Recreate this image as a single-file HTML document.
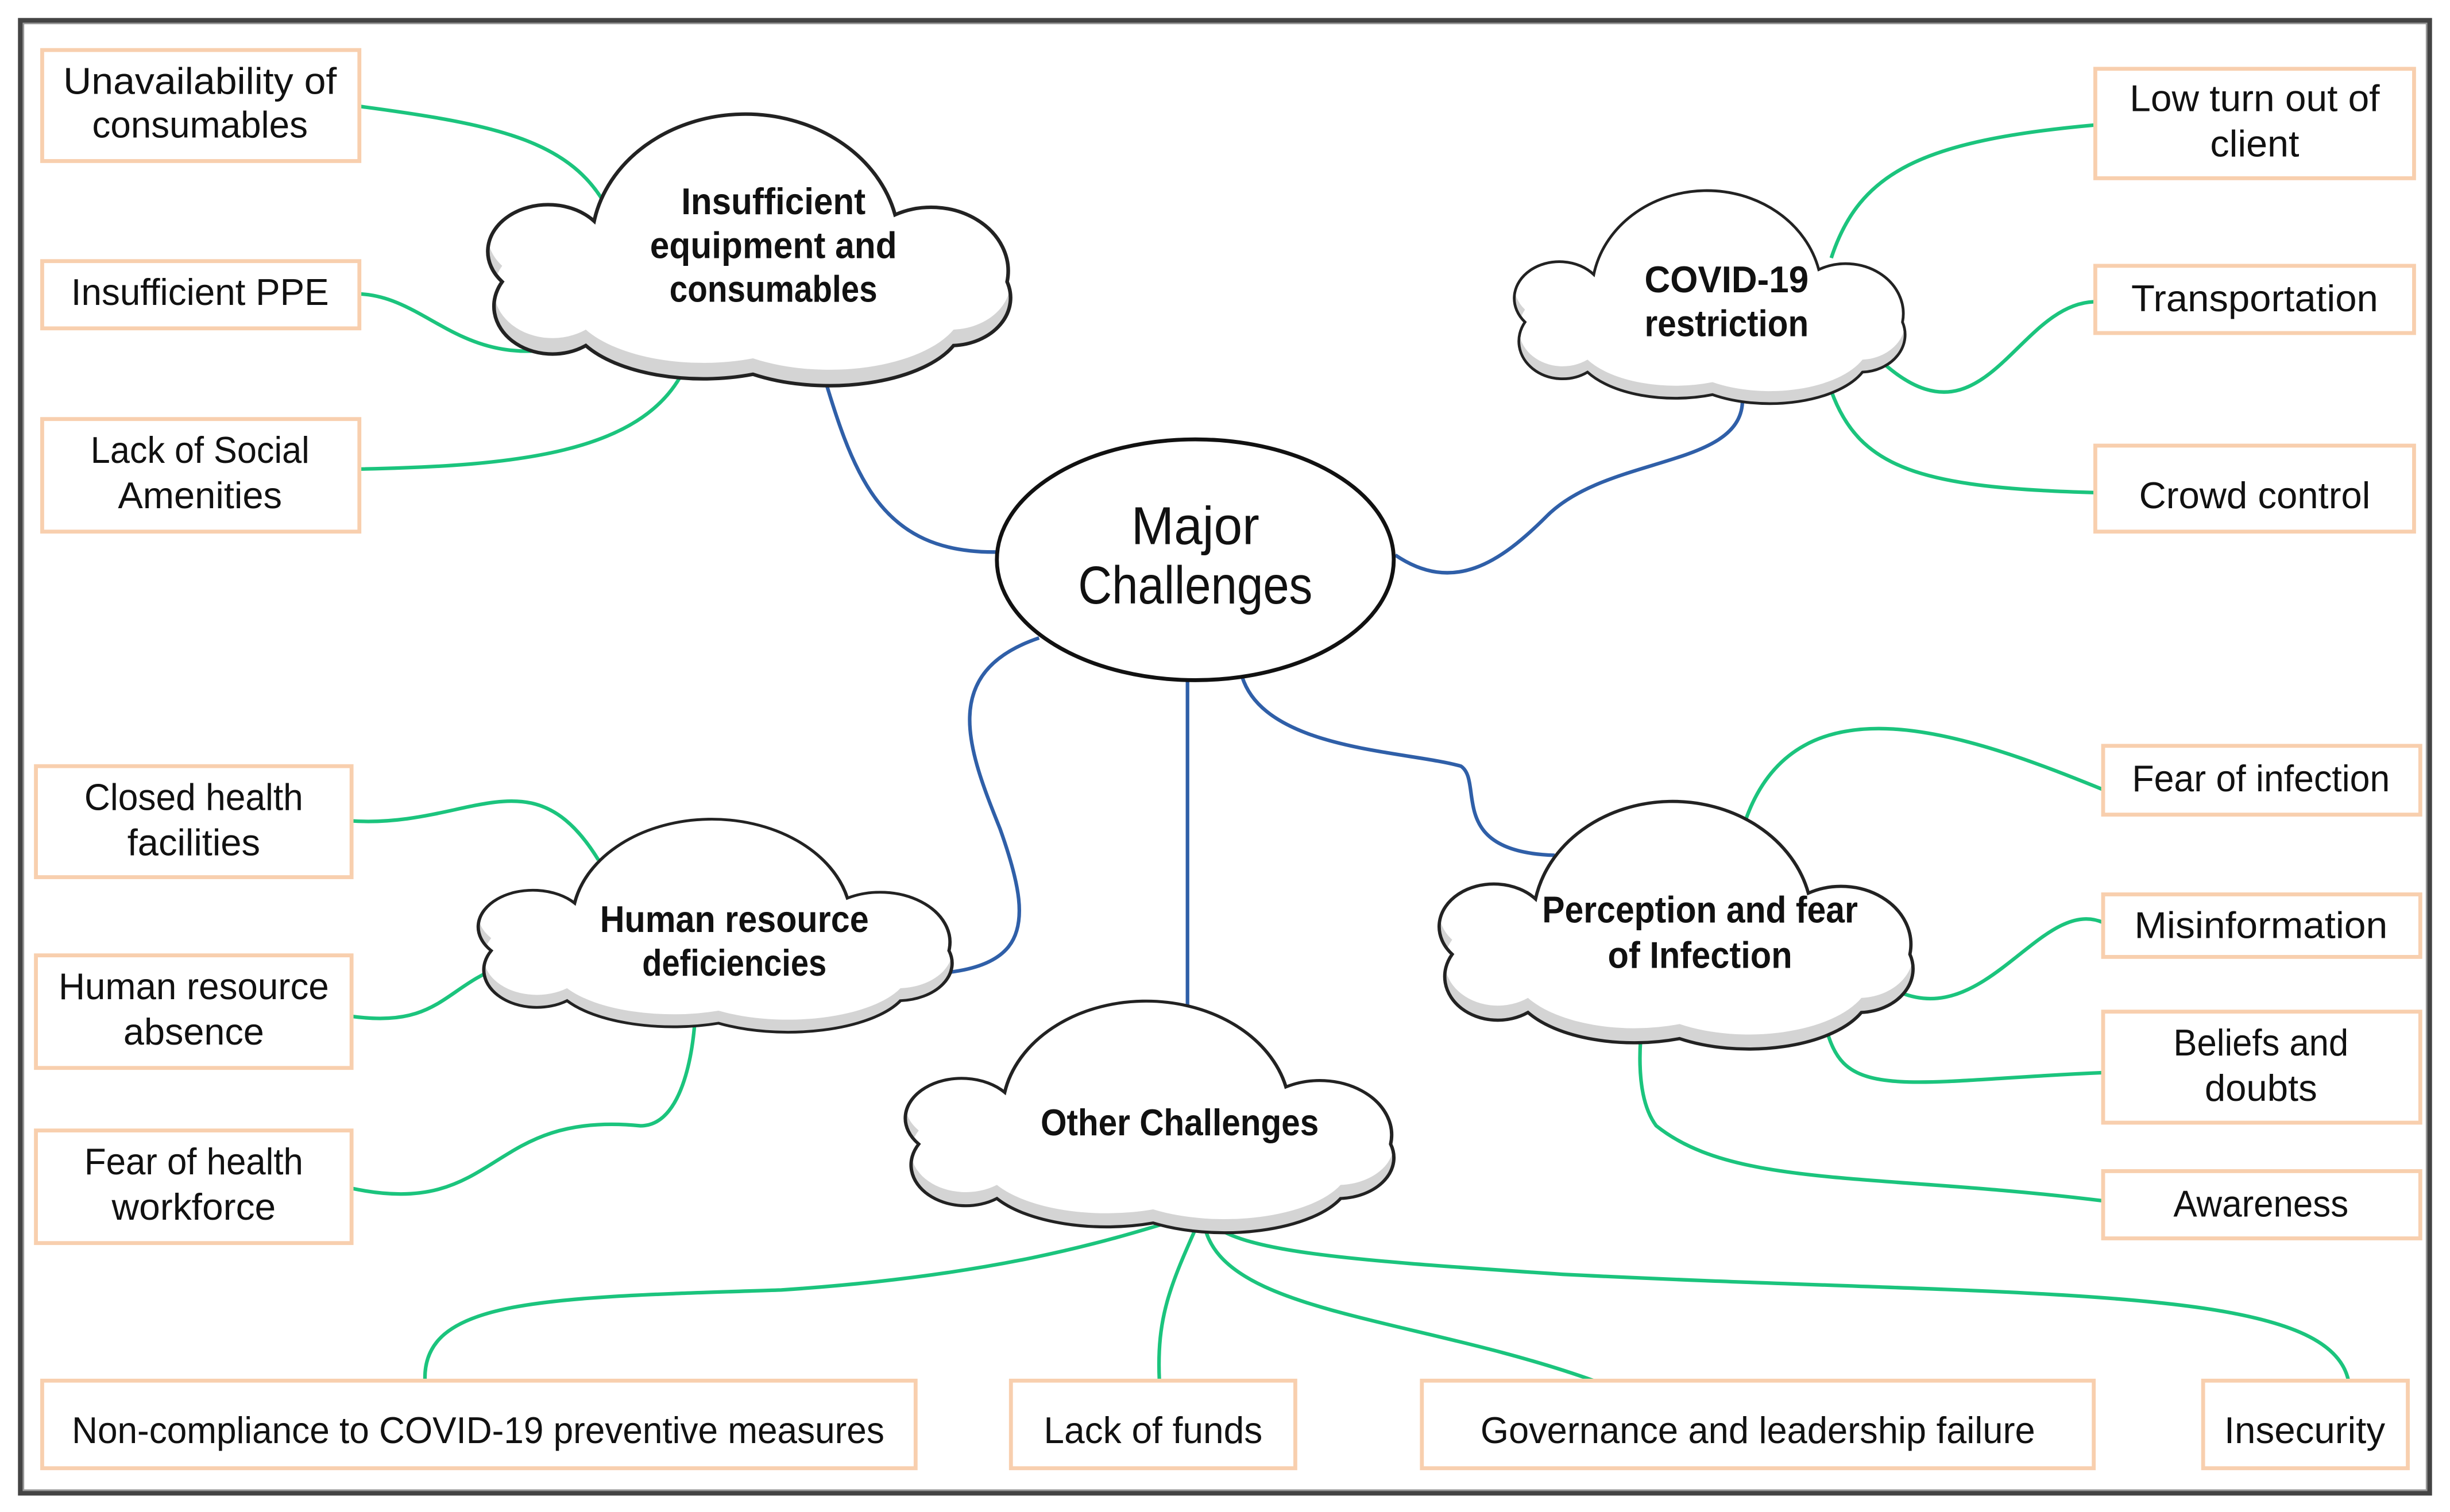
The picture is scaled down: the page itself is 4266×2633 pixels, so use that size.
<!DOCTYPE html>
<html><head><meta charset="utf-8"><style>
html,body{margin:0;padding:0;background:#fff;}
svg{display:block;}
text{font-family:"Liberation Sans",sans-serif;fill:#111;}
</style></head><body>
<svg width="4266" height="2633" viewBox="0 0 1568 967" preserveAspectRatio="none" xmlns="http://www.w3.org/2000/svg">
<defs>
<path id="cl" d="M70,150 A35,30 0 0 1 20,110 A32,26 0 0 1 75,72 A92,82 0 0 1 255,68 A46,40 0 0 1 322,110 A36,30 0 0 1 290,150 A80,40 0 0 1 170,168 A80,40 0 0 1 70,150 Z"/>
<clipPath id="cc"><use href="#cl"/></clipPath>
<g id="cloud">
<use href="#cl" fill="#d4d4d4"/>
<g clip-path="url(#cc)"><use href="#cl" fill="#fff" transform="translate(0,-10)"/></g>
<use href="#cl" fill="none" stroke="#222" stroke-width="2.2"/>
</g>
</defs>
<rect x="0" y="0" width="1568" height="967" fill="#fff"/>
<rect x="13" y="13" width="1542" height="942" fill="none" stroke="#444" stroke-width="3"/>
<rect x="15" y="15" width="1538" height="938" fill="none" stroke="#999" stroke-width="1"/>

<g fill="none" stroke-width="2.3" stroke="#1bc47d">
<path d="M230,68 C320,80 370,90 392,140"/>
<path d="M230,188 C280,190 300,250 393,212"/>
<path d="M230,300 C330,298 410,290 437,238"/>
<path d="M1340,80 C1230,90 1190,110 1172,165"/>
<path d="M1340,193 C1290,195 1270,290 1205,232"/>
<path d="M1340,315 C1230,312 1190,300 1172,250"/>
<path d="M1346,505 C1260,470 1150,430 1117,525"/>
<path d="M1346,590 C1300,570 1260,690 1185,612"/>
<path d="M1346,686 C1250,690 1200,700 1180,680 C1165,665 1165,630 1165,620"/>
<path d="M1346,768 C1200,750 1110,760 1060,720 C1045,700 1050,660 1052,648"/>
<path d="M225,525 C300,530 340,480 383,550"/>
<path d="M225,650 C300,660 280,610 375,610"/>
<path d="M225,760 C320,780 310,710 410,720 C440,720 445,660 445,645"/>
<path d="M272,883 C270,830 350,830 500,825 C650,815 720,790 770,775"/>
<path d="M742,883 C740,840 750,820 770,775"/>
<path d="M1020,883 C900,840 770,840 770,775"/>
<path d="M1503,883 C1490,820 1300,830 1000,815 C850,805 780,800 770,775"/>
</g>
<g fill="none" stroke-width="2.3" stroke="#2f5fa8">
<path d="M523,226 C545,300 560,355 640,353"/>
<path d="M1115,252 C1120,300 1030,290 990,330 C960,360 930,380 893,355"/>
<path d="M795,433 C810,480 900,480 935,490 C950,500 925,545 995,547"/>
<path d="M665,408 C600,430 620,480 640,530 C665,600 660,630 550,622"/>
<path d="M760,436 L760,650"/>
</g>

<use href="#cloud" transform="translate(300,68) scale(1.07,1.02)"/>
<use href="#cloud" transform="translate(960,118) scale(0.8,0.8)"/>
<use href="#cloud" transform="translate(295,520) scale(0.97,0.8)"/>
<use href="#cloud" transform="translate(910,508) scale(0.97,0.93)"/>
<use href="#cloud" transform="translate(568,636) scale(1.0,0.87)"/>

<ellipse cx="765" cy="358" rx="127" ry="77" fill="#fff" stroke="#111" stroke-width="2.5"/>

<g fill="#fff" stroke="#f8cfae" stroke-width="2.5">
<rect x="27" y="32" width="203" height="71"/>
<rect x="27" y="167" width="203" height="43"/>
<rect x="27" y="268" width="203" height="72"/>
<rect x="23" y="490" width="202" height="71"/>
<rect x="23" y="611" width="202" height="72"/>
<rect x="23" y="723" width="202" height="72"/>
<rect x="1341" y="44" width="204" height="70"/>
<rect x="1341" y="170" width="204" height="43"/>
<rect x="1341" y="285" width="204" height="55"/>
<rect x="1346" y="477" width="203" height="44"/>
<rect x="1346" y="572" width="203" height="40"/>
<rect x="1346" y="647" width="203" height="71"/>
<rect x="1346" y="749" width="203" height="43"/>
<rect x="27" y="883" width="559" height="56"/>
<rect x="647" y="883" width="182" height="56"/>
<rect x="910" y="883" width="430" height="56"/>
<rect x="1410" y="883" width="131" height="56"/>
</g>

<g font-size="24" text-anchor="middle" lengthAdjust="spacingAndGlyphs">
<text x="128" y="60" textLength="175" lengthAdjust="spacingAndGlyphs">Unavailability of</text><text x="128" y="88" textLength="138" lengthAdjust="spacingAndGlyphs">consumables</text>
<text x="128" y="195" textLength="165" lengthAdjust="spacingAndGlyphs">Insufficient PPE</text>
<text x="128" y="296" textLength="140" lengthAdjust="spacingAndGlyphs">Lack of Social</text><text x="128" y="325" textLength="105" lengthAdjust="spacingAndGlyphs">Amenities</text>
<text x="124" y="518" textLength="140" lengthAdjust="spacingAndGlyphs">Closed health</text><text x="124" y="547" textLength="85" lengthAdjust="spacingAndGlyphs">facilities</text>
<text x="124" y="639" textLength="173" lengthAdjust="spacingAndGlyphs">Human resource</text><text x="124" y="668" textLength="90" lengthAdjust="spacingAndGlyphs">absence</text>
<text x="124" y="751" textLength="140" lengthAdjust="spacingAndGlyphs">Fear of health</text><text x="124" y="780" textLength="105" lengthAdjust="spacingAndGlyphs">workforce</text>
<text x="1443" y="71" textLength="160" lengthAdjust="spacingAndGlyphs">Low turn out of</text><text x="1443" y="100" textLength="57" lengthAdjust="spacingAndGlyphs">client</text>
<text x="1443" y="199" textLength="158" lengthAdjust="spacingAndGlyphs">Transportation</text>
<text x="1443" y="325" textLength="148" lengthAdjust="spacingAndGlyphs">Crowd control</text>
<text x="1447" y="506" textLength="165" lengthAdjust="spacingAndGlyphs">Fear of infection</text>
<text x="1447" y="600" textLength="162" lengthAdjust="spacingAndGlyphs">Misinformation</text>
<text x="1447" y="675" textLength="112" lengthAdjust="spacingAndGlyphs">Beliefs and</text><text x="1447" y="704" textLength="72" lengthAdjust="spacingAndGlyphs">doubts</text>
<text x="1447" y="778" textLength="112" lengthAdjust="spacingAndGlyphs">Awareness</text>
<text x="306" y="923" textLength="520" lengthAdjust="spacingAndGlyphs">Non-compliance to COVID-19 preventive measures</text>
<text x="738" y="923" textLength="140" lengthAdjust="spacingAndGlyphs">Lack of funds</text>
<text x="1125" y="923" textLength="355" lengthAdjust="spacingAndGlyphs">Governance and leadership failure</text>
<text x="1475" y="923" textLength="103" lengthAdjust="spacingAndGlyphs">Insecurity</text>
</g>
<g font-size="24" text-anchor="middle" font-weight="bold">
<text x="495" y="137" textLength="118" lengthAdjust="spacingAndGlyphs">Insufficient</text><text x="495" y="165" textLength="158" lengthAdjust="spacingAndGlyphs">equipment and</text><text x="495" y="193" textLength="133" lengthAdjust="spacingAndGlyphs">consumables</text>
<text x="1105" y="187" textLength="105" lengthAdjust="spacingAndGlyphs">COVID-19</text><text x="1105" y="215" textLength="105" lengthAdjust="spacingAndGlyphs">restriction</text>
<text x="470" y="596" textLength="172" lengthAdjust="spacingAndGlyphs">Human resource</text><text x="470" y="624" textLength="118" lengthAdjust="spacingAndGlyphs">deficiencies</text>
<text x="1088" y="590" textLength="202" lengthAdjust="spacingAndGlyphs">Perception and fear</text><text x="1088" y="619" textLength="118" lengthAdjust="spacingAndGlyphs">of Infection</text>
<text x="755" y="726" textLength="178" lengthAdjust="spacingAndGlyphs">Other Challenges</text>
</g>
<g font-size="34" text-anchor="middle">
<text x="765" y="348" textLength="82" lengthAdjust="spacingAndGlyphs">Major</text><text x="765" y="386" textLength="150" lengthAdjust="spacingAndGlyphs">Challenges</text>
</g>
</svg>
</body></html>
